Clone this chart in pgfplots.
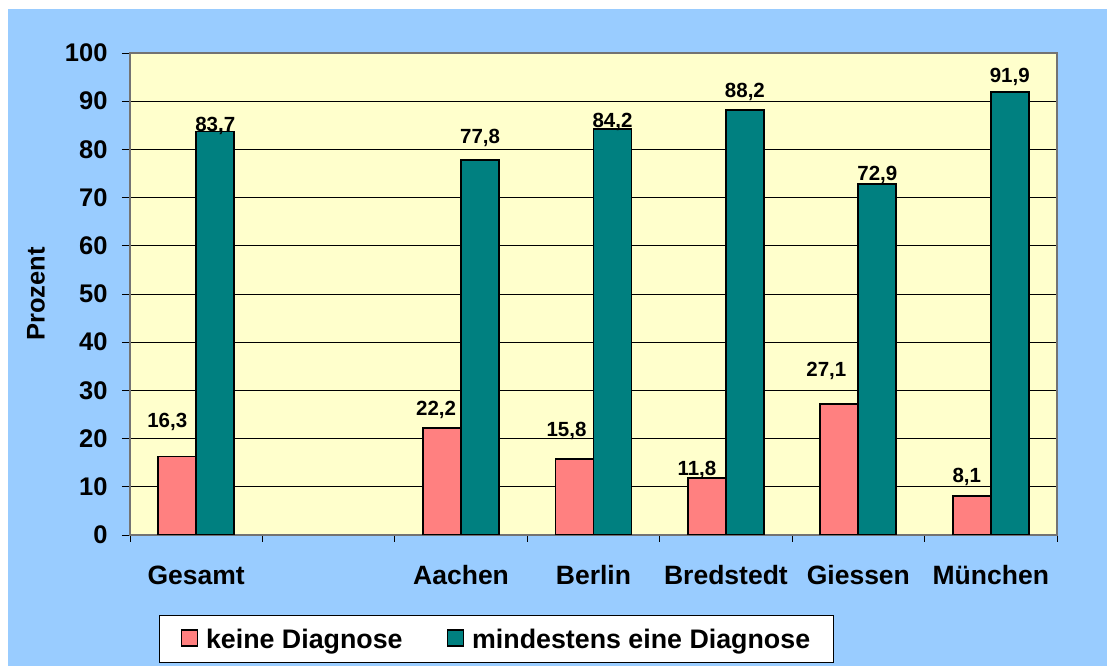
\documentclass[border=0pt]{standalone}
\usepackage{pgfplots}
\pgfplotsset{compat=1.18}
\usepackage{pgfplotstable}
\usepackage{fontspec}
\setmainfont{Liberation Sans}
\definecolor{bgblue}{HTML}{99CCFF}
\definecolor{plotyellow}{HTML}{FFFFCC}
\definecolor{barred}{HTML}{FF8080}
\definecolor{barteal}{HTML}{008080}
\pgfplotstableread{
x y dx dy
0 16.3 -29 29
2 22.2 -25 12
3 15.8 -27 22
4 11.8 -29 3
5 27.1 -32 28
6 8.1 -24 13
}\keine
\pgfplotstableread{
x y dx dy
0 83.7 19 0
2 77.8 19 16
3 84.2 19 2
4 88.2 19 12
5 72.9 19 3
6 91.9 19 10
}\mindestens
\begin{document}
\begin{tikzpicture}
\fill[white] (0,0) rectangle (1107pt,666pt);
\fill[bgblue] (8pt,0) rectangle (1107pt,657pt);
\begin{axis}[
  at={(130pt,131pt)}, anchor=south west,
  scale only axis, width=927pt, height=482pt,
  xmin=-0.5, xmax=6.5, ymin=0, ymax=100,
  enlargelimits=false,
  axis background/.style={fill=plotyellow},
  axis line style={draw=black!55, line width=1.5pt},
  ytick={0,10,...,100},
  ymajorgrids, grid style={black, line width=0.9pt},
  xtick={0,...,6},
  xticklabels={Gesamt,{},Aachen,Berlin,Bredstedt,Giessen,München},
  minor xtick={-0.5,0.5,...,6.5},
  every major x tick/.append style={draw=none},
  xtick pos=bottom, ytick pos=left,
  tick align=outside,
  major tick length=8pt, minor tick length=7pt,
  tick style={black, line width=0.9pt},
  /pgf/number format/assume math mode=true,
  tick label style={font=\bfseries\fontsize{25.5}{30}\selectfont},
  yticklabel style={xshift=-11pt},
  xticklabel style={yshift=-19pt, font=\bfseries\fontsize{26.5}{30}\selectfont},
  ylabel={Prozent},
  ylabel style={at={(rel axis cs:0,0.5)}, anchor=center, yshift=94pt, font=\bfseries\fontsize{25.5}{30}\selectfont},
  legend columns=2,
  legend style={at={(0.0313,-0.2656)}, anchor=south west, draw=black, line width=1pt, fill=white,
    font=\bfseries\fontsize{26.8}{30}\selectfont, inner xsep=21pt, inner ysep=11pt,
    /tikz/every odd column/.append style={column sep=6pt},
    /tikz/every even column/.append style={column sep=42pt}},
  legend image code/.code={\draw[#1, line width=1.5pt] (0pt,-7pt) rectangle (16pt,9pt);},
  nodes near coords={\pgfmathprintnumber[fixed, fixed zerofill, precision=1, use comma]{\pgfplotspointmeta}},
  visualization depends on={\thisrow{dx} \as \dx},
  visualization depends on={\thisrow{dy} \as \dy},
  every node near coord/.append style={anchor=base, xshift=\dx pt, yshift=\dy pt, font=\bfseries\fontsize{20.5}{24}\selectfont, text=black},
]
\addplot[ybar, bar width=38pt, bar shift=-19pt, fill=barred, draw=black, line width=1.8pt] table[x=x, y=y] {\keine};
\addlegendentry{keine Diagnose}
\addplot[ybar, bar width=38pt, bar shift=19pt, fill=barteal, draw=black, line width=1.8pt] table[x=x, y=y] {\mindestens};
\addlegendentry{mindestens eine Diagnose}
\end{axis}
\end{tikzpicture}
\end{document}
